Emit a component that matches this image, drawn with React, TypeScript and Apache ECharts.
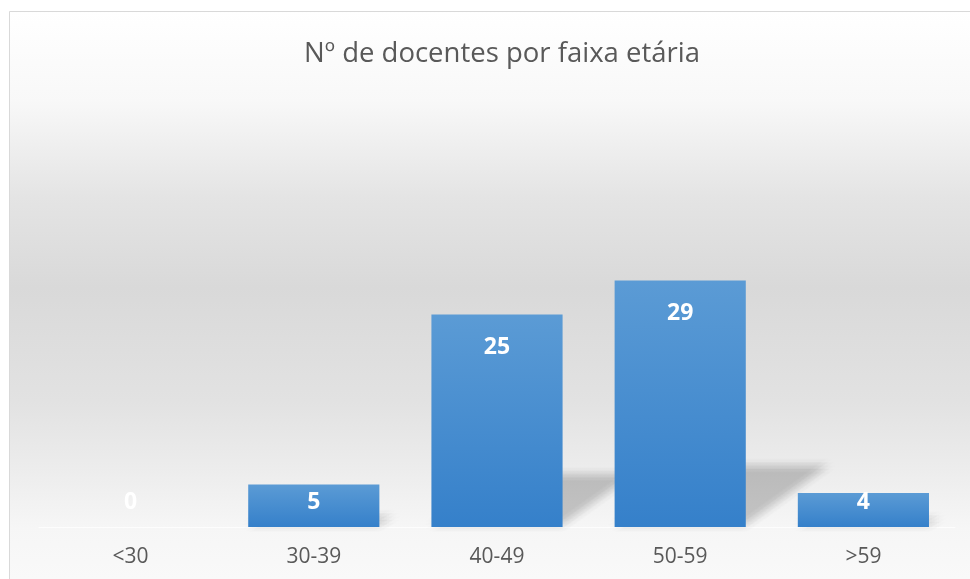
import React, { useEffect, useRef } from "react";
import * as echarts from "echarts";

const TITLE = "Nº de docentes por faixa etária";
const categories = ["<30", "30-39", "40-49", "50-59", ">59"];
const values = [0, 5, 25, 29, 4];
const Y_MAX = 35;
const BAR_FRAC = 0.716;

export default function App() {
  const ref = useRef<HTMLDivElement>(null);
  useEffect(() => {
    if (!ref.current) return;
    const chart = echarts.init(ref.current, undefined, { renderer: "svg" });
    const blurOffsets: number[][] = [];
    const R = 7;
    for (let a = 0; a < 12; a++) {
      const ang = (a / 12) * Math.PI * 2;
      blurOffsets.push([Math.cos(ang) * R, Math.sin(ang) * R]);
      blurOffsets.push([Math.cos(ang + 0.26) * R * 0.5, Math.sin(ang + 0.26) * R * 0.5]);
    }
    blurOffsets.push([0, 0]);
    const option: any = {
      animation: false,
      graphic: [
        {
          type: "rect",
          z: -10,
          silent: true,
          shape: { x: 9.5, y: 11.5, width: 990, height: 600 },
          style: {
            stroke: "#d9d9d9",
            lineWidth: 1,
            fill: new echarts.graphic.LinearGradient(0, 0, 0, 1, [
              { offset: 0, color: "#ffffff" },
              { offset: 0.15, color: "#f8f8f8" },
              { offset: 0.31, color: "#e4e4e4" },
              { offset: 0.46, color: "#d9d9d9" },
              { offset: 0.65, color: "#e2e2e2" },
              { offset: 0.76, color: "#ececec" },
              { offset: 0.86, color: "#f6f6f6" },
              { offset: 1, color: "#fbfbfb" },
            ]),
          },
        },
      ],
      title: {
        text: TITLE,
        left: 497,
        top: 32,
        textAlign: "center",
        textStyle: {
          fontFamily: "Open Sans",
          fontSize: 27.5,
          fontWeight: "normal",
          color: "#595959",
        },
      },
      grid: { left: 39, right: 15, top: 229.5, bottom: 52, containLabel: false },
      xAxis: {
        type: "category",
        data: categories,
        axisLine: { show: true, lineStyle: { color: "#fdfdfd", width: 1 } },
        axisTick: { show: false },
        axisLabel: {
          margin: 17,
          fontFamily: "Open Sans",
          fontSize: 21,
          color: "#595959",
        },
      },
      yAxis: {
        type: "value",
        min: 0,
        max: Y_MAX,
        show: false,
        splitLine: { show: false },
      },
      series: [
        {
          type: "custom",
          z: 1,
          silent: true,
          clip: false,
          data: values.map((v, i) => [i, v]),
          renderItem: (params: any, api: any) => {
            const idx = api.value(0);
            const v = api.value(1);
            const top = api.coord([idx, v]);
            const base = api.coord([idx, 0]);
            const w = api.size([1, 0])[0] * BAR_FRAC;
            const x0 = base[0] - w / 2;
            const x1 = base[0] + w / 2;
            const h = (base[1] - top[1]) * 0.25;
            const dx = h * 1.35;
            if (h <= 0) return null;
            const children = blurOffsets.map((o) => ({
              type: "polygon",
              shape: {
                points: [
                  [x0 + o[0], base[1] - 2 + o[1]],
                  [x1 + o[0], base[1] - 2 + o[1]],
                  [x1 + dx + o[0], base[1] - h + o[1]],
                  [x0 + dx + o[0], base[1] - h + o[1]],
                ],
              },
              style: { fill: "rgba(0,0,0,0.0085)" },
            }));
            return { type: "group", children };
          },
        },
        {
          type: "bar",
          z: 2,
          data: values,
          barWidth: BAR_FRAC * 100 + "%",
          itemStyle: {
            color: new echarts.graphic.LinearGradient(0, 0, 0, 1, [
              { offset: 0, color: "#5b9bd5" },
              { offset: 1, color: "#3580ca" },
            ]),
          },
          label: {
            show: true,
            position: "insideTop",
            fontFamily: "Open Sans",
            fontWeight: "bold",
            fontSize: 23,
            color: "#ffffff",
          },
          labelLayout: (params: any) => {
            const r = params.rect;
            const y = Math.min(r.y + 30, r.y + r.height - 27);
            return {
              x: r.x + r.width / 2,
              y,
              align: "center",
              verticalAlign: "middle",
            };
          },
        },
      ],
    };
    chart.setOption(option);
    return () => chart.dispose();
  }, []);
  return (
    <div
      ref={ref}
      style={{ position: "fixed", left: 0, top: 0, width: 970, height: 579 }}
    />
  );
}
